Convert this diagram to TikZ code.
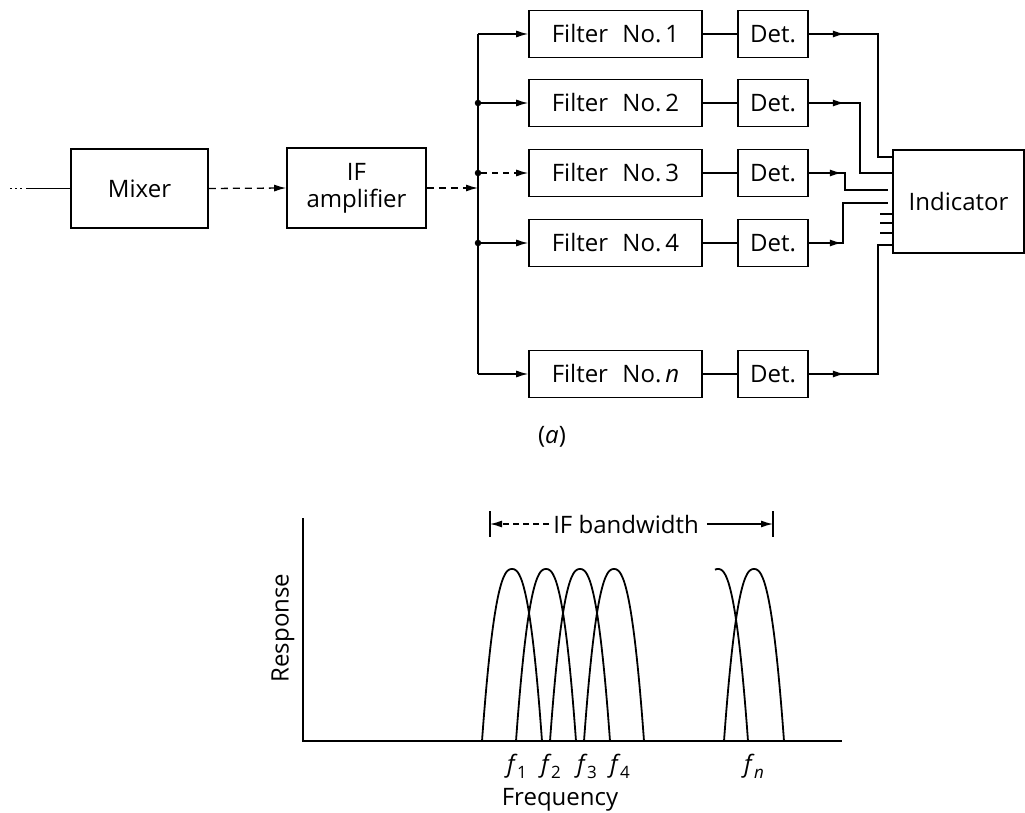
\documentclass[tikz,border=0pt]{standalone}
\usepackage{fontspec}
\setmainfont{Open Sans}
\usetikzlibrary{arrows.meta,decorations.markings}
\newcommand\fsubs[1]{\textit{f}\kern-0.5pt\raisebox{-6pt}{\fontsize{17}{17}\selectfont #1}}
\begin{document}
\begin{tikzpicture}[x=1pt,y=-1pt,
  font=\fontsize{24}{27}\selectfont,
  blk/.style={draw, line width=1.6pt, inner sep=0pt, align=center},
  conn/.style={line width=1.3pt},
  tip/.style={-{Latex[length=12pt,width=7pt]}},
  midarr/.style={postaction={decorate}, decoration={markings,
      mark=at position #1 with {\arrow{Latex[length=12pt,width=7pt]}}}},
  dot/.style={circle, fill, inner sep=0pt, minimum size=6.5pt},
  resp/.style={line width=1.8pt},
  lbl/.style={inner sep=0pt}]
\useasboundingbox (0,0) rectangle (1025,813);

% ---- blocks ----
\node[blk, minimum width=137pt, minimum height=79pt] (mixer) at (139.5,188.5) {Mixer};
\node[blk, minimum width=139pt, minimum height=80pt] (ifamp) at (356.5,188) {IF\\amplifier};
\foreach \n/\y/\t in {1/34/1, 2/103/2, 3/173/3, 4/243/4, n/374/\textit{n}}{
  \node[blk, minimum width=173pt, minimum height=47pt] (f\n) at (615.5,\y) {Filter\hspace{0.6em}No.\,\t};
  \node[blk, minimum width=70pt, minimum height=47pt] (d\n) at (773,\y) {Det.};
  \draw[conn] (f\n.east) -- (d\n.west);
}
\node[blk, minimum width=131pt, minimum height=103pt] (ind) at (958.5,201.5) {Indicator};

% ---- input side ----
\coordinate (in) at (10,188.5);
\draw[conn, dash pattern=on 2pt off 3pt on 2pt off 3pt on 2pt off 4pt on 60pt] (in) -- (mixer.west);
\draw[conn, tip, dash pattern=on 7pt off 5pt] (mixer.east) -- (ifamp.west);

% ---- bus ----
\coordinate (b1) at (478,34);
\coordinate (bn) at (478,374);
\coordinate (bin) at (478,188);
\draw[conn, tip, dash pattern=on 7pt off 5pt] (ifamp.east) -- (bin);
\draw[conn] (b1) -- (bn);
\node[dot] (j2) at (478,103) {};
\node[dot] (j3) at (478,173) {};
\node[dot] (j4) at (478,243) {};
\draw[conn, tip] (b1) -- (f1.west);
\draw[conn, tip] (j2) -- (f2.west);
\draw[conn, tip, dash pattern=on 6pt off 5pt] (j3) -- (f3.west);
\draw[conn, tip] (j4) -- (f4.west);
\draw[conn, tip] (bn) -- (fn.west);

% ---- detector outputs ----
\coordinate (i1) at (893,157);
\coordinate (i2) at (893,173);
\coordinate (i3) at (888,190);
\coordinate (i4) at (888,203);
\coordinate (in5) at (893,245);
\draw[conn, midarr=36pt] (d1.east) -- (878,34) -- (878,157) -- (i1);
\draw[conn, midarr=36pt] (d2.east) -- (860,103) -- (860,173) -- (i2);
\draw[conn, midarr=33pt] (d3.east) -- (845,173) -- (845,190) -- (i3);
\draw[conn, midarr=33pt] (d4.east) -- (843,243) -- (843,203) -- (i4);
\draw[conn, midarr=36pt] (dn.east) -- (878,374) -- (878,245) -- (in5);
\foreach \y in {214,223,233}{
  \draw[conn] (880,\y) -- (893,\y);
}

\node[lbl] (capa) at (552,437) {(\textit{a})};

% ---- response graph ----
\coordinate (ytop) at (303,518);
\coordinate (org) at (303,741);
\coordinate (xend) at (842,741);
\draw[line width=1.5pt] (ytop) -- (org) -- (xend);
\foreach \c in {512,546,580,614,754}{
  \draw[resp] plot[domain=-1:1, samples=40, smooth] ({\c+30*\x},{741-172*(1-abs(\x)^2.4)});
}
\draw[resp] plot[domain=-0.1:1, samples=30, smooth] ({718+30*\x},{741-172*(1-abs(\x)^2.4)});

\node[lbl, rotate=90] (resplbl) at (283,628) {Response};
\node[lbl] (freq) at (560,800) {Frequency};
\node[lbl] (l1) at (517,766) {\fsubs{1}};
\node[lbl] (l2) at (551,766) {\fsubs{2}};
\node[lbl] (l3) at (587,766) {\fsubs{3}};
\node[lbl] (l4) at (620,766) {\fsubs{4}};
\node[lbl] (ln) at (754,766) {\fsubs{\textit{n}}};

% ---- IF bandwidth ----
\node[lbl] (bw) at (626,524) {IF bandwidth};
\coordinate (bl) at (490,524);
\coordinate (br) at (773,524);
\draw[line width=1.4pt] (490,511) -- (490,537);
\draw[line width=1.4pt] (773,511) -- (773,537);
\draw[conn, tip, dash pattern=on 6pt off 4pt] (bw.west) ++(-4,0) -- (bl);
\draw[conn, tip] (bw.east) ++(8,0) -- (br);
\end{tikzpicture}
\end{document}
